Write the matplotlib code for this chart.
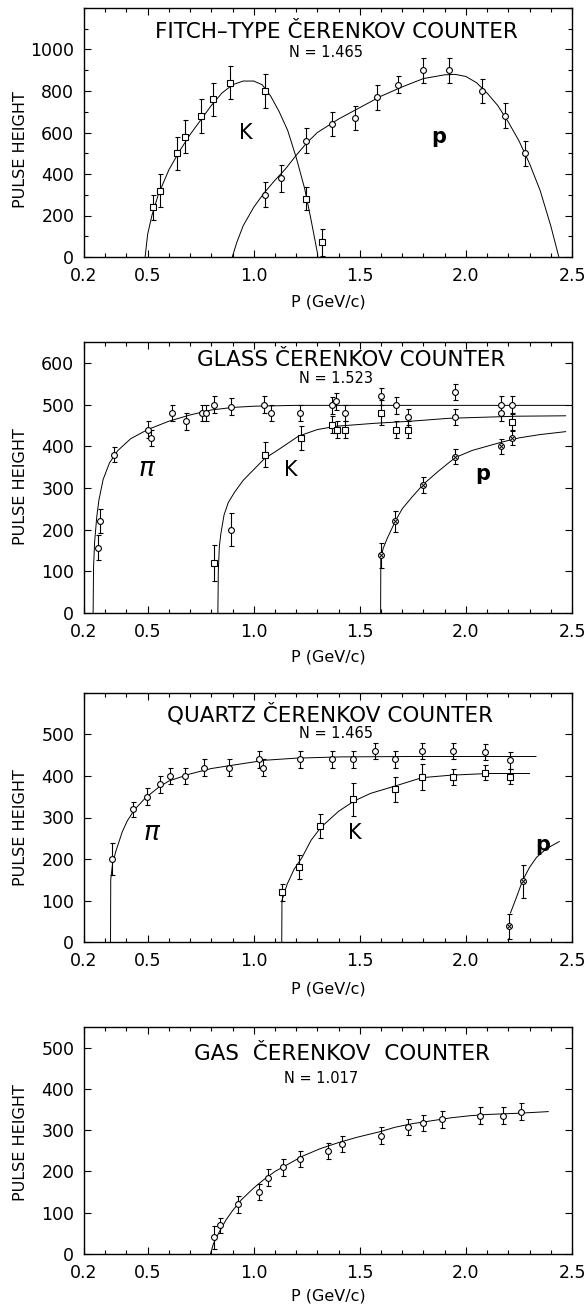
import matplotlib
matplotlib.use("Agg")
import matplotlib.pyplot as plt
from matplotlib.ticker import FixedLocator, MultipleLocator, FixedFormatter

plt.rcParams['font.family'] = ['DejaVu Sans']

# ---------------- Panel 1: Fitch-type Cerenkov counter ----------------
fitch_k_p = [0.527, 0.559, 0.639, 0.678, 0.750, 0.810, 0.890, 1.051, 1.244, 1.323]
fitch_k_h = [240, 320, 500, 580, 680, 760, 840, 800, 280, 70]
fitch_k_e = [60, 80, 80, 80, 80, 80, 80, 80, 55, 65]
fitch_p_p = [1.051, 1.130, 1.244, 1.371, 1.476, 1.582, 1.678, 1.800, 1.920, 2.074, 2.185, 2.279]
fitch_p_h = [300, 380, 560, 640, 670, 770, 830, 900, 900, 800, 680, 500]
fitch_p_e = [60, 65, 60, 58, 60, 60, 40, 60, 60, 58, 60, 60]
fitch_k_curve_p = [0.488, 0.50, 0.52, 0.55, 0.60, 0.65, 0.70, 0.75, 0.80, 0.85, 0.90, 0.95,
                   1.00, 1.04, 1.08, 1.12, 1.16, 1.20, 1.24, 1.27, 1.30, 1.302]
fitch_k_curve_h = [0, 110, 200, 300, 420, 510, 590, 660, 730, 790, 830, 848,
                   848, 830, 775, 700, 610, 480, 330, 180, 20, 0]
fitch_p_curve_p = [0.899, 0.92, 0.95, 1.00, 1.05, 1.10, 1.15, 1.20, 1.25, 1.30, 1.40, 1.50,
                   1.60, 1.70, 1.80, 1.90, 1.95, 2.00, 2.05, 2.10, 2.15, 2.20, 2.25, 2.30,
                   2.35, 2.40, 2.438]
fitch_p_curve_h = [0, 70, 150, 240, 310, 370, 425, 490, 550, 600, 665, 720,
                   775, 820, 860, 878, 880, 870, 840, 790, 730, 650, 560, 450,
                   320, 150, 0]

# ---------------- Panel 2: Glass Cerenkov counter ----------------
glass_pi_p = [0.265, 0.275, 0.340, 0.503, 0.514, 0.614, 0.682, 0.756, 0.774, 0.813, 0.892,
              1.050, 1.080, 1.220, 1.368, 1.389, 1.430, 1.598, 1.672, 1.729, 1.948, 2.167, 2.217]
glass_pi_h = [157, 220, 380, 440, 420, 480, 460, 480, 480, 500, 495,
              500, 480, 480, 498, 508, 480, 520, 498, 470, 530, 500, 500]
glass_pi_e = [30, 29, 19, 20, 20, 20, 20, 20, 20, 20, 20,
              20, 20, 20, 20, 20, 20, 20, 20, 20, 20, 20, 20]
glass_k_p = [0.812, 1.052, 1.221, 1.368, 1.393, 1.430, 1.598, 1.672, 1.729, 2.217]
glass_k_h = [120, 380, 420, 452, 440, 440, 480, 440, 440, 457]
glass_k_e = [43, 30, 29, 20, 20, 20, 30, 20, 20, 20]
glass_k2_p = [0.892, 1.948, 2.167]
glass_k2_h = [200, 470, 480]
glass_k2_e = [40, 20, 20]
glass_pr_p = [1.601, 1.668, 1.800, 1.950, 2.167, 2.217]
glass_pr_h = [138, 220, 308, 375, 400, 420]
glass_pr_e = [29, 25, 19, 18, 18, 18]
glass_pi_curve_p = [0.243, 0.245, 0.25, 0.26, 0.27, 0.29, 0.32, 0.36, 0.42, 0.50, 0.60,
                    0.70, 0.80, 0.90, 1.00, 1.20, 2.47]
glass_pi_curve_h = [0, 110, 170, 230, 270, 320, 360, 390, 418, 440, 460,
                    475, 487, 493, 496, 498, 498]
glass_k_curve_p = [0.831, 0.833, 0.838, 0.845, 0.86, 0.88, 0.91, 0.95, 1.00, 1.05, 1.12,
                   1.21, 1.30, 1.39, 1.57, 1.74, 1.92, 2.24, 2.47]
glass_k_curve_h = [0, 100, 160, 190, 235, 265, 290, 318, 344, 370, 393,
                   424, 440, 448, 455, 460, 467, 472, 473]
glass_pr_curve_p = [1.598, 1.599, 1.61, 1.63, 1.668, 1.70, 1.744, 1.80, 1.87, 1.95, 2.03,
                    2.10, 2.17, 2.25, 2.35, 2.47]
glass_pr_curve_h = [0, 130, 155, 180, 221, 250, 277, 309, 340, 373, 390,
                    400, 410, 420, 428, 435]

# ---------------- Panel 3: Quartz Cerenkov counter ----------------
quartz_pi_p = [0.333, 0.432, 0.497, 0.556, 0.607, 0.677, 0.767, 0.884, 1.026, 1.044,
               1.216, 1.368, 1.470, 1.570, 1.667, 1.793, 1.939, 2.088, 2.207]
quartz_pi_h = [200, 320, 350, 380, 400, 400, 420, 420, 440, 420,
               440, 440, 440, 460, 440, 460, 460, 458, 438]
quartz_pi_e = [39, 18, 20, 20, 20, 20, 20, 20, 20, 20,
               20, 20, 20, 20, 20, 20, 20, 20, 20]
quartz_k_p = [1.133, 1.214, 1.314, 1.468, 1.667, 1.793, 1.939, 2.088, 2.207]
quartz_k_h = [120, 180, 280, 344, 368, 398, 398, 408, 398]
quartz_k_e = [20, 29, 29, 40, 30, 31, 19, 18, 18]
quartz_pr_p = [2.205, 2.267]
quartz_pr_h = [38, 146]
quartz_pr_e = [30, 40]
quartz_pi_curve_p = [0.325, 0.326, 0.335, 0.351, 0.38, 0.404, 0.44, 0.491, 0.55, 0.60,
                     0.70, 0.80, 0.90, 1.053, 1.20, 1.404, 1.754, 2.33]
quartz_pi_curve_h = [0, 150, 190, 220, 265, 292, 320, 348, 372, 388,
                     405, 418, 426, 438, 443, 446, 447, 447]
quartz_k_curve_p = [1.132, 1.133, 1.145, 1.158, 1.19, 1.228, 1.27, 1.316, 1.40, 1.474,
                    1.55, 1.667, 1.793, 1.93, 2.105, 2.30]
quartz_k_curve_h = [0, 100, 120, 140, 175, 204, 245, 276, 315, 340,
                    358, 376, 396, 402, 406, 406]
quartz_pr_curve_p = [2.21, 2.24, 2.267, 2.30, 2.333, 2.38, 2.44]
quartz_pr_curve_h = [70, 110, 148, 180, 204, 225, 242]

# ---------------- Panel 4: Gas Cerenkov counter ----------------
gas_p = [0.814, 0.841, 0.925, 1.026, 1.066, 1.137, 1.220, 1.349, 1.418, 1.599,
         1.726, 1.797, 1.889, 2.065, 2.173, 2.258]
gas_h = [40, 70, 120, 150, 185, 210, 230, 250, 267, 287,
         308, 317, 326, 335, 335, 345]
gas_e = [28, 18, 20, 20, 20, 20, 20, 20, 20, 20,
         20, 20, 20, 20, 20, 20]
gas_curve_p = [0.796, 0.81, 0.835, 0.87, 0.90, 0.941, 1.00, 1.047, 1.10, 1.153, 1.23,
               1.312, 1.40, 1.488, 1.60, 1.665, 1.75, 1.841, 1.93, 2.018, 2.10, 2.247, 2.388]
gas_curve_h = [0, 25, 51, 83, 105, 131, 160, 180, 200, 215, 237,
               255, 270, 283, 297, 307, 316, 323, 330, 335, 338, 341, 345]

x_tick_vals = [0.2, 0.5, 1.0, 1.5, 2.0, 2.5]
x_tick_labels = ['0.2', '0.5', '1.0', '1.5', '2.0', '2.5']
fitch_y_ticks = [0, 200, 400, 600, 800, 1000]
glass_y_ticks = [0, 100, 200, 300, 400, 500, 600]
quartz_y_ticks = [0, 100, 200, 300, 400, 500]
gas_y_ticks = [0, 100, 200, 300, 400, 500]

FIG_W, FIG_H = 586, 1307
fig = plt.figure(figsize=(FIG_W / 100, FIG_H / 100), dpi=100)


def make_ax(top, bottom, left=84, right=572):
    return fig.add_axes([left / FIG_W, 1 - bottom / FIG_H,
                         (right - left) / FIG_W, (bottom - top) / FIG_H])


def style_ax(ax, ymax, yticks, yminor, ylab_y, xlab_y):
    ax.set_xlim(0.2, 2.5)
    ax.set_ylim(0, ymax)
    ax.xaxis.set_major_locator(FixedLocator(x_tick_vals))
    ax.xaxis.set_major_formatter(FixedFormatter(x_tick_labels))
    ax.xaxis.set_minor_locator(MultipleLocator(0.1))
    ax.yaxis.set_major_locator(FixedLocator(yticks))
    ax.yaxis.set_minor_locator(MultipleLocator(yminor))
    ax.tick_params(which='both', direction='in', top=True, right=True,
                   width=0.8, colors='black')
    ax.tick_params(which='major', length=5, labelsize=12.5, pad=7)
    ax.tick_params(which='minor', length=3)
    for s in ax.spines.values():
        s.set_linewidth(1.0)
    ax.set_ylabel('PULSE HEIGHT', fontsize=11.5)
    ax.yaxis.set_label_coords(-0.115, ylab_y)
    ax.set_xlabel('P (GeV/c)', fontsize=11.5)
    ax.xaxis.set_label_coords(0.5, xlab_y)


def errpts(ax, p, h, e, marker, ms=4.0):
    ax.errorbar(p, h, yerr=e, fmt=marker, ms=ms, mfc='white', mec='black',
                mew=0.8, ecolor='black', elinewidth=0.8, capsize=1.8,
                capthick=0.8, zorder=3)


def dotpts(ax, p, h, e):
    errpts(ax, p, h, e, 'o', ms=4.2)
    ax.plot(p, h, 'x', ms=2.6, mew=0.7, color='black', zorder=4)


def curve(ax, p, h):
    ax.plot(p, h, '-', color='black', lw=0.7, zorder=2)


def titles(ax, title, n, tx, ty, nx, ny):
    ax.text(tx, ty, title, transform=ax.transAxes, ha='center', va='center',
            fontsize=15.5)
    ax.text(nx, ny, n, transform=ax.transAxes, ha='center', va='center',
            fontsize=10.5)


# Panel 1
ax1 = make_ax(8, 257)
curve(ax1, fitch_k_curve_p, fitch_k_curve_h)
curve(ax1, fitch_p_curve_p, fitch_p_curve_h)
errpts(ax1, fitch_k_p, fitch_k_h, fitch_k_e, 's', ms=4.0)
errpts(ax1, fitch_p_p, fitch_p_h, fitch_p_e, 'o', ms=4.2)
style_ax(ax1, 1200, fitch_y_ticks, 100, 0.43, -0.149)
titles(ax1, 'FITCH\u2013TYPE \u010cERENKOV COUNTER', 'N = 1.465', 0.517, 0.905, 0.496, 0.82)
ax1.text(0.331, 0.497, 'K', transform=ax1.transAxes, fontsize=15, ha='center', va='center')
ax1.text(0.727, 0.48, 'p', transform=ax1.transAxes, fontsize=15, fontweight='bold',
         ha='center', va='center')

# Panel 2
ax2 = make_ax(342, 613)
curve(ax2, glass_pi_curve_p, glass_pi_curve_h)
curve(ax2, glass_k_curve_p, glass_k_curve_h)
curve(ax2, glass_pr_curve_p, glass_pr_curve_h)
errpts(ax2, glass_pi_p, glass_pi_h, glass_pi_e, 'o', ms=4.2)
errpts(ax2, glass_k_p, glass_k_h, glass_k_e, 's', ms=4.0)
errpts(ax2, glass_k2_p, glass_k2_h, glass_k2_e, 'o', ms=4.2)
dotpts(ax2, glass_pr_p, glass_pr_h, glass_pr_e)
style_ax(ax2, 650, glass_y_ticks, 100, 0.465, -0.133)
titles(ax2, 'GLASS \u010cERENKOV COUNTER', 'N = 1.523', 0.548, 0.932, 0.517, 0.865)
ax2.text(0.128, 0.533, '\u03c0', transform=ax2.transAxes, fontsize=19, style='italic',
         ha='center', va='center')
ax2.text(0.423, 0.529, 'K', transform=ax2.transAxes, fontsize=15, ha='center', va='center')
ax2.text(0.817, 0.514, 'p', transform=ax2.transAxes, fontsize=15, fontweight='bold',
         ha='center', va='center')

# Panel 3
ax3 = make_ax(693, 942)
curve(ax3, quartz_pi_curve_p, quartz_pi_curve_h)
curve(ax3, quartz_k_curve_p, quartz_k_curve_h)
curve(ax3, quartz_pr_curve_p, quartz_pr_curve_h)
errpts(ax3, quartz_pi_p, quartz_pi_h, quartz_pi_e, 'o', ms=4.2)
errpts(ax3, quartz_k_p, quartz_k_h, quartz_k_e, 's', ms=4.0)
dotpts(ax3, quartz_pr_p, quartz_pr_h, quartz_pr_e)
style_ax(ax3, 600, quartz_y_ticks, 100, 0.458, -0.16)
titles(ax3, 'QUARTZ \u010cERENKOV COUNTER', 'N = 1.465', 0.505, 0.914, 0.516, 0.837)
ax3.text(0.138, 0.438, '\u03c0', transform=ax3.transAxes, fontsize=19, style='italic',
         ha='center', va='center')
ax3.text(0.554, 0.438, 'K', transform=ax3.transAxes, fontsize=15, ha='center', va='center')
ax3.text(0.94, 0.388, 'p', transform=ax3.transAxes, fontsize=15, fontweight='bold',
         ha='center', va='center')

# Panel 4
ax4 = make_ax(1027, 1254)
curve(ax4, gas_curve_p, gas_curve_h)
errpts(ax4, gas_p, gas_h, gas_e, 'o', ms=4.2)
style_ax(ax4, 550, gas_y_ticks, 100, 0.49, -0.152)
titles(ax4, 'GAS  \u010cERENKOV  COUNTER', 'N = 1.017', 0.528, 0.883, 0.485, 0.773)

fig.savefig('out.png', dpi=100, facecolor='white')
